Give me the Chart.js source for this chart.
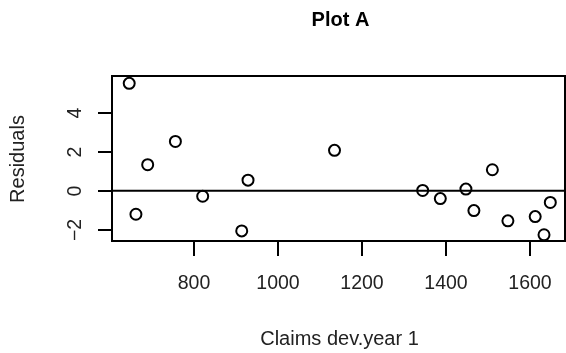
<!DOCTYPE html>
<html>
<head>
<meta charset="utf-8">
<script src="https://cdn.jsdelivr.net/npm/chart.js@4"></script>
<style>
  html, body { margin: 0; padding: 0; background: #fff; }
  #wrap { width: 566px; height: 353px; position: relative; }
</style>
</head>
<body>
<div id="wrap"><canvas id="c" width="566" height="353"></canvas></div>
<script>
const titleText = "Plot A";
const xLabel = "Claims dev.year 1";
const yLabel = "Residuals";
const claims = [646, 662, 690, 756, 821, 914, 929, 1135, 1345, 1387, 1448, 1467, 1511, 1548, 1613, 1634, 1649];
const residuals = [5.55, -1.21, 1.35, 2.55, -0.28, -2.07, 0.55, 2.09, 0.02, -0.40, 0.09, -1.02, 1.09, -1.55, -1.33, -2.27, -0.60];
const xTicks = [800, 1000, 1200, 1400, 1600];
const yTicks = [-2, 0, 2, 4];
const xRange = [605, 1684];
const yRange = [-2.59, 5.93];

const FONT = '"Liberation Sans", Arial, sans-serif';

const rAxes = {
  id: 'rAxes',
  afterDraw(chart) {
    const ctx = chart.ctx;
    const a = chart.chartArea;
    const xs = chart.scales.x, ys = chart.scales.y;
    ctx.save();
    ctx.strokeStyle = '#000';
    ctx.fillStyle = '#000';
    ctx.lineWidth = 2;
    // horizontal reference line at 0
    const y0 = ys.getPixelForValue(0);
    ctx.beginPath();
    ctx.moveTo(a.left, y0); ctx.lineTo(a.right, y0);
    ctx.stroke();
    // box
    ctx.strokeRect(a.left, a.top, a.right - a.left, a.bottom - a.top);
    // x ticks
    ctx.fillStyle = '#222';
    ctx.font = '19.5px ' + FONT;
    ctx.textAlign = 'center';
    ctx.textBaseline = 'middle';
    xTicks.forEach(v => {
      const px = Math.round(xs.getPixelForValue(v));
      ctx.beginPath();
      ctx.moveTo(px, a.bottom); ctx.lineTo(px, a.bottom + 15);
      ctx.stroke();
      ctx.fillText(String(v), px, 284);
    });
    // y ticks
    yTicks.forEach(v => {
      const py = Math.round(ys.getPixelForValue(v));
      ctx.beginPath();
      ctx.moveTo(a.left, py); ctx.lineTo(a.left - 14, py);
      ctx.stroke();
      ctx.save();
      ctx.translate(76, py);
      ctx.rotate(-Math.PI / 2);
      ctx.fillText(v < 0 ? '\u2212' + Math.abs(v) : String(v), 0, 0);
      ctx.restore();
    });
    // axis titles
    ctx.font = '20px ' + FONT;
    ctx.fillText(xLabel, 339.5, 339);
    ctx.save();
    ctx.translate(18.5, 159);
    ctx.rotate(-Math.PI / 2);
    ctx.fillText(yLabel, 0, 0);
    ctx.restore();
    // main title
    ctx.fillStyle = '#000';
    ctx.font = 'bold 20px ' + FONT;
    ctx.fillText(titleText, 340.5, 20);
    ctx.restore();
  }
};

new Chart(document.getElementById('c'), {
  type: 'scatter',
  data: {
    datasets: [{
      data: claims.map((x, i) => ({ x: x, y: residuals[i] })),
      pointStyle: 'circle',
      pointRadius: 5.5,
      pointBorderWidth: 2,
      borderColor: '#000',
      backgroundColor: 'rgba(0,0,0,0)',
      pointHoverRadius: 5.5
    }]
  },
  options: {
    responsive: false,
    animation: false,
    devicePixelRatio: 1,
    layout: { autoPadding: false, padding: { left: 112, top: 76, right: 1, bottom: 112 } },
    plugins: { legend: { display: false }, tooltip: { enabled: false }, title: { display: false } },
    scales: {
      x: { type: 'linear', min: xRange[0], max: xRange[1], display: false },
      y: { type: 'linear', min: yRange[0], max: yRange[1], display: false }
    }
  },
  plugins: [rAxes]
});
</script>
</body>
</html>
